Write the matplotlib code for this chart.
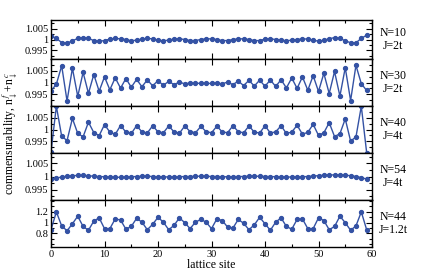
import matplotlib
matplotlib.use("Agg")
import matplotlib.pyplot as plt
import numpy as np
from matplotlib.ticker import MultipleLocator, FixedLocator, FixedFormatter

plt.rcParams['font.family'] = ['Liberation Serif', 'DejaVu Serif']
plt.rcParams['mathtext.fontset'] = 'stix'

sites = np.arange(60)

# N=10, J=2t
n10 = [1.0017, 1.0005, 0.9986, 0.9983, 0.9994, 1.0005, 1.0009, 1.0005, 0.9995, 0.9992,
       0.9995, 1.0002, 1.0005, 1.0003, 1.0000, 0.9994, 0.9997, 1.0002, 1.0005, 1.0003,
       0.9997, 0.9994, 0.9997, 1.0002, 1.0003, 1.0000, 0.9995, 0.9995, 1.0000, 1.0003,
       1.0003, 1.0000, 0.9995, 0.9995, 1.0000, 1.0003, 1.0003, 1.0000, 0.9995, 0.9995,
       1.0002, 1.0003, 1.0000, 0.9997, 0.9994, 0.9997, 1.0000, 1.0003, 1.0002, 0.9997,
       0.9992, 0.9997, 1.0003, 1.0009, 1.0005, 0.9994, 0.9985, 0.9985, 1.0005, 1.0020]

# N=30, J=2t
n30 = [0.9964, 0.9993, 1.0071, 0.9921, 1.0061, 0.9941, 1.0043, 0.9954, 1.0034, 0.9963,
       1.0024, 0.9969, 1.0020, 0.9976, 1.0017, 0.9980, 1.0013, 0.9982, 1.0011, 0.9986,
       1.0008, 0.9988, 1.0005, 0.9991, 1.0002, 0.9994, 0.9998, 0.9996, 0.9997, 0.9996,
       0.9996, 0.9998, 0.9994, 1.0002, 0.9991, 1.0006, 0.9987, 1.0009, 0.9985, 1.0010,
       0.9984, 1.0011, 0.9983, 1.0012, 0.9977, 1.0019, 0.9975, 1.0024, 0.9967, 1.0029,
       0.9962, 1.0039, 0.9953, 1.0047, 0.9942, 1.0063, 0.9923, 1.0073, 0.9995, 0.9966]

# N=40, J=4t
n40 = [0.9904, 1.0099, 0.9971, 0.9953, 1.0047, 0.9983, 0.9969, 1.0031, 0.9987, 0.9974,
       1.0021, 0.9989, 0.9979, 1.0017, 0.9989, 0.9983, 1.0016, 0.9990, 0.9985, 1.0016,
       0.9990, 0.9986, 1.0015, 0.9990, 0.9984, 1.0015, 0.9991, 0.9986, 1.0013, 0.9991,
       0.9986, 1.0014, 0.9990, 0.9986, 1.0016, 0.9991, 0.9986, 1.0015, 0.9989, 0.9985,
       1.0016, 0.9985, 0.9990, 1.0016, 0.9983, 0.9989, 1.0018, 0.9980, 0.9988, 1.0022,
       0.9975, 0.9986, 1.0029, 0.9970, 0.9982, 1.0045, 0.9951, 0.9968, 1.0099, 0.9902]

# N=54, J=4t
n54 = [0.9991, 0.9994, 0.9998, 1.0001, 1.0003, 1.0004, 1.0004, 1.0003, 1.0001, 1.0000,
       0.9999, 0.9998, 0.9997, 0.9997, 0.9998, 0.9999, 1.0000, 1.0001, 1.0001, 1.0000,
       0.9999, 0.9999, 0.9998, 0.9998, 0.9999, 1.0000, 1.0000, 1.0001, 1.0001, 1.0001,
       1.0000, 1.0000, 0.9999, 0.9999, 0.9999, 1.0000, 1.0000, 1.0001, 1.0001, 1.0001,
       1.0000, 1.0000, 0.9999, 0.9999, 0.9998, 0.9998, 0.9998, 0.9999, 1.0000, 1.0002,
       1.0003, 1.0005, 1.0006, 1.0006, 1.0006, 1.0005, 1.0003, 1.0000, 0.9996, 0.9990]

# N=44, J=1.2t
n44 = [0.87, 1.20, 0.94, 0.85, 0.98, 1.12, 0.93, 0.86, 1.03, 1.09,
       0.89, 0.89, 1.07, 1.05, 0.88, 0.93, 1.08, 1.01, 0.87, 0.97,
       1.10, 1.01, 0.87, 0.95, 1.09, 1.00, 0.89, 1.01, 1.06, 1.01,
       0.89, 1.07, 1.04, 0.92, 0.90, 1.06, 0.99, 0.87, 0.96, 1.10,
       0.98, 0.86, 1.01, 1.09, 0.93, 0.88, 1.06, 1.07, 0.89, 0.89,
       1.09, 1.04, 0.87, 0.93, 1.12, 1.00, 0.86, 0.94, 1.20, 0.87]

series = [n10, n30, n40, n54, n44]
labels = ["N=10\nJ=2t", "N=30\nJ=2t", "N=40\nJ=4t", "N=54\nJ=4t", "N=44\nJ=1.2t"]
ylims = [(0.991, 1.009), (0.99, 1.01), (0.99, 1.01), (0.991, 1.009), (0.55, 1.42)]
yticks_small = [0.995, 1.0, 1.005]
yticklabels_small = ["0.995", "1", "1.005"]
yticks_big = [0.8, 1.0, 1.2]
yticklabels_big = ["0.8", "1", "1.2"]

color = "#3452a4"

fig = plt.figure(figsize=(4.22, 2.75), dpi=100)
gs = fig.add_gridspec(5, 1, height_ratios=[39, 47, 47, 47, 47], hspace=0,
                      left=51/422, right=372/422, top=1-20/275, bottom=1-247/275)

for i, (vals, lab, yl) in enumerate(zip(series, labels, ylims)):
    ax = fig.add_subplot(gs[i])
    ax.plot(sites, vals, '-o', color=color, linewidth=1.0, markersize=2.8)
    ax.set_xlim(0, 60)
    ax.set_ylim(*yl)
    ax.xaxis.set_major_locator(MultipleLocator(10))
    ax.xaxis.set_minor_locator(MultipleLocator(5))
    if i < 4:
        ax.yaxis.set_major_locator(FixedLocator(yticks_small))
        ax.yaxis.set_major_formatter(FixedFormatter(yticklabels_small))
        ax.yaxis.set_minor_locator(MultipleLocator(0.0025))
    else:
        ax.yaxis.set_major_locator(FixedLocator(yticks_big))
        ax.yaxis.set_major_formatter(FixedFormatter(yticklabels_big))
        ax.yaxis.set_minor_locator(MultipleLocator(0.1))
    ax.tick_params(which='both', direction='in', top=True, right=True, labelsize=7.5,
                   width=0.8, pad=2)
    ax.tick_params(which='major', length=4)
    ax.tick_params(which='minor', length=2)
    if i < 4:
        ax.tick_params(labelbottom=False)
    else:
        ax.set_xlabel("lattice site", fontsize=8.5, labelpad=0)
    for sp in ax.spines.values():
        sp.set_linewidth(1.0)
    ax.text(1.065, 0.5, lab, transform=ax.transAxes, fontsize=8.5,
            ha='center', va='center', multialignment='center', linespacing=1.1)

fig.text(10/422, 1-133/275,
         r"commensurability, n$^{\,f}_{\downarrow}$+n$^{\,c}_{\downarrow}$",
         rotation=90, ha='center', va='center', fontsize=8.5)

fig.savefig("out.png", dpi=100)
